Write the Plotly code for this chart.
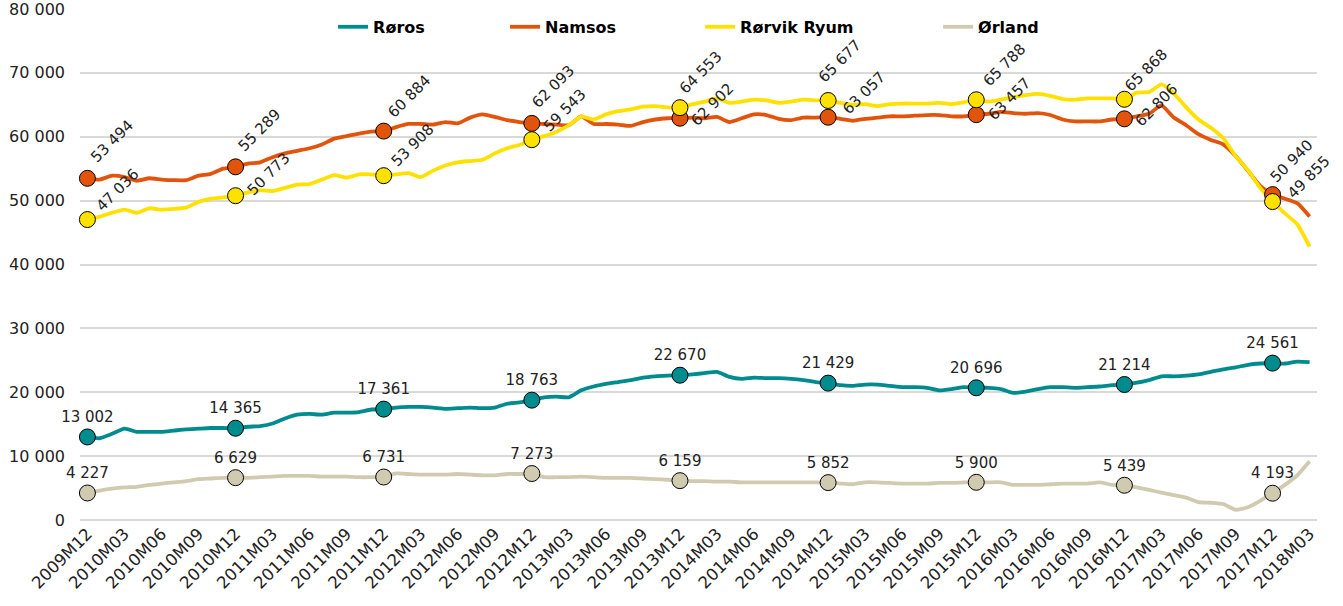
import plotly.graph_objects as go
import pandas as pd

# ---------------- data ----------------
months = [p.strftime("%YM%m") for p in pd.period_range("2009-12", "2018-03", freq="M")]

roros = [13002, 12800, 13500, 14300, 13800, 13800, 13800, 14000, 14200, 14300, 14400, 14400,
         14365, 14600, 14700, 15100, 15900, 16500, 16600, 16500, 16800, 16800, 16900, 17300,
         17361, 17600, 17700, 17700, 17600, 17400, 17500, 17600, 17500, 17600, 18200, 18400,
         18763, 19200, 19300, 19200, 20300, 20900, 21300, 21600, 21900, 22300, 22500, 22600,
         22670, 22800, 23000, 23200, 22400, 22100, 22300, 22200, 22200, 22100, 21900, 21600,
         21429, 21100, 21000, 21200, 21200, 21000, 20800, 20800, 20700, 20300, 20500, 20800,
         20696, 20700, 20500, 19900, 20100, 20500, 20800, 20800, 20700, 20800, 20900, 21100,
         21214, 21500, 21900, 22500, 22500, 22600, 22800, 23200, 23600, 23900, 24300, 24500,
         24561, 24500, 24800, 24700]

namsos = [53494, 53300, 53900, 53700, 53100, 53500, 53300, 53200, 53200, 53900, 54200, 55000,
          55289, 55800, 56000, 56800, 57400, 57800, 58200, 58800, 59700, 60100, 60500, 60800,
          60884, 61500, 62000, 62000, 61900, 62300, 62100, 63000, 63500, 63100, 62600, 62300,
          62093, 62000, 61900, 61800, 63200, 62000, 62000, 61900, 61700, 62300, 62700, 62900,
          62902, 63000, 62900, 63100, 62300, 62900, 63500, 63400, 62800, 62600, 63000, 63000,
          63057, 62800, 62500, 62800, 63000, 63200, 63200, 63300, 63400, 63400, 63200, 63200,
          63457, 63600, 63900, 63700, 63600, 63700, 63400, 62700, 62400, 62400, 62400, 62700,
          62806, 63200, 63600, 64900, 63000, 61800, 60400, 59500, 58800, 57000, 54700, 52300,
          50940, 50300, 49600, 47500]

rorvik = [47036, 47500, 48100, 48600, 48100, 48800, 48600, 48700, 48900, 49800, 50300, 50500,
          50773, 51300, 51600, 51500, 52000, 52500, 52600, 53300, 54000, 53600, 54100, 54100,
          53908, 54100, 54300, 53700, 54700, 55500, 56000, 56200, 56400, 57400, 58200, 58700,
          59543, 60100, 60800, 61800, 63200, 62700, 63500, 64000, 64300, 64700, 64800, 64600,
          64553, 65100, 65500, 66000, 65300, 65500, 65800, 65700, 65300, 65500, 65800, 65700,
          65677, 65300, 65000, 65100, 64800, 65100, 65200, 65200, 65200, 65300, 65100, 65400,
          65788, 65500, 65800, 66200, 66500, 66700, 66400, 65900, 65800, 66000, 66000, 66000,
          65868, 66900, 67000, 68200, 66800, 64600, 62700, 61400, 59800, 57000, 54800, 52000,
          49855, 48000, 46300, 42800]

orland = [4227, 4600, 4900, 5100, 5200, 5500, 5700, 5900, 6100, 6400, 6500, 6600,
          6629, 6600, 6700, 6800, 6900, 6900, 6900, 6800, 6800, 6800, 6700, 6700,
          6731, 7300, 7200, 7100, 7100, 7100, 7200, 7100, 7000, 7000, 7200, 7200,
          7273, 6700, 6700, 6700, 6800, 6700, 6600, 6600, 6600, 6500, 6400, 6300,
          6159, 6100, 6100, 6000, 6000, 5900, 5900, 5900, 5900, 5900, 5900, 5900,
          5852, 5700, 5600, 5900, 5900, 5800, 5700, 5700, 5700, 5800, 5800, 5900,
          5900, 5900, 5900, 5500, 5500, 5500, 5600, 5700, 5700, 5700, 5900, 5500,
          5439, 5100, 4700, 4300, 3900, 3500, 2800, 2700, 2500, 1600, 2000, 3000,
          4193, 5500, 7000, 9200]

y_ticks = [0, 10000, 20000, 30000, 40000, 50000, 60000, 70000, 80000]

# ---------------- styling ----------------
FONT = "DejaVu Sans"
C_ROROS = "#008B8E"
C_NAMSOS = "#E2540C"
C_RORVIK = "#FFE100"
C_ORLAND = "#D0CBB0"

dec_idx = [i for i, m in enumerate(months) if m.endswith("M12")]


def fmt(v):
    return f"{v:,}".replace(",", " ")


fig = go.Figure()

series = [
    ("Røros", roros, C_ROROS, "legend", 0.2046),
    ("Namsos", namsos, C_NAMSOS, "legend2", 0.3436),
    ("Rørvik Ryum", rorvik, C_RORVIK, "legend3", 0.5013),
    ("Ørland", orland, C_ORLAND, "legend4", 0.6937),
]

for name, vals, col, lg, _ in series:
    fig.add_trace(go.Scatter(
        x=months, y=vals, mode="lines", name=name, legend=lg,
        line=dict(color=col, width=3.8, shape="spline", smoothing=0.5),
        hoverinfo="x+y", cliponaxis=False,
    ))

# markers for Røros / Ørland with horizontal labels above
for name, vals, col in [("Røros", roros, C_ROROS), ("Ørland", orland, C_ORLAND)]:
    fig.add_trace(go.Scatter(
        x=[months[i] for i in dec_idx], y=[vals[i] for i in dec_idx],
        mode="markers+text", showlegend=False, cliponaxis=False,
        text=[fmt(vals[i]) for i in dec_idx], textposition="top center",
        textfont=dict(family=FONT, size=15, color="#222222"),
        marker=dict(size=16, color=col, line=dict(color="#000000", width=1)),
    ))

# markers for Namsos / Rørvik Ryum (rotated labels as annotations)
for name, vals, col in [("Namsos", namsos, C_NAMSOS), ("Rørvik Ryum", rorvik, C_RORVIK)]:
    fig.add_trace(go.Scatter(
        x=[months[i] for i in dec_idx], y=[vals[i] for i in dec_idx],
        mode="markers", showlegend=False, cliponaxis=False,
        marker=dict(size=16, color=col, line=dict(color="#000000", width=1)),
    ))

# label offsets (px) per December point: (dx, dy-up)
off_namsos = [(25, 37), (24, 37), (26, 35), (22, 37), (33, 14), (36, 24), (33, 16), (32, 14), (19, 34)]
off_rorvik = [(30, 30), (33, 22), (29, 31), (33, 30), (21, 36), (12, 39), (28, 35), (22, 29), (36, 25)]

annotations = []
for vals, offs in [(namsos, off_namsos), (rorvik, off_rorvik)]:
    for k, i in enumerate(dec_idx):
        dx, dy = offs[k]
        annotations.append(dict(
            x=months[i], y=vals[i], xref="x", yref="y", text=fmt(vals[i]),
            showarrow=False, textangle=-45, xshift=dx, yshift=dy,
            font=dict(family=FONT, size=15, color="#222222"),
        ))

legend_style = dict(orientation="h", xanchor="left", y=0.965, yanchor="middle",
                    font=dict(family=FONT, size=16, color="#000000", weight="bold"),
                    bgcolor="rgba(0,0,0,0)")

layout_legends = {}
for name, vals, col, lg, lx in series:
    layout_legends[lg] = dict(legend_style, x=lx)

fig.update_layout(
    width=1343, height=606,
    margin=dict(l=80, r=26, t=9, b=86, autoexpand=False),
    paper_bgcolor="white", plot_bgcolor="white",
    font=dict(family=FONT, size=16, color="#222222"),
    showlegend=True,
    annotations=annotations,
    xaxis=dict(
        type="category", range=[-0.6, 99.6], automargin=False,
        tickmode="array", tickvals=months[::3], ticktext=months[::3],
        tickangle=-45, showgrid=False, zeroline=False, showline=False, ticks="",
        tickfont=dict(family=FONT, size=16.5, color="#222222"),
    ),
    yaxis=dict(
        range=[0, 80000], tickmode="array", tickvals=y_ticks, automargin=False,
        ticktext=[fmt(v) for v in y_ticks], ticklabeloverflow="allow",
        showgrid=True, gridcolor="#D9D9D9", gridwidth=1.5,
        zeroline=True, zerolinecolor="#D9D9D9", zerolinewidth=1.5,
        showline=False, ticks="", ticklabelstandoff=14,
        tickfont=dict(family=FONT, size=16, color="#222222"),
    ),
    **layout_legends,
)

fig.write_html("out.html", config={"displayModeBar": False},
               post_script="document.body.style.margin='0';document.body.style.overflow='hidden';")
